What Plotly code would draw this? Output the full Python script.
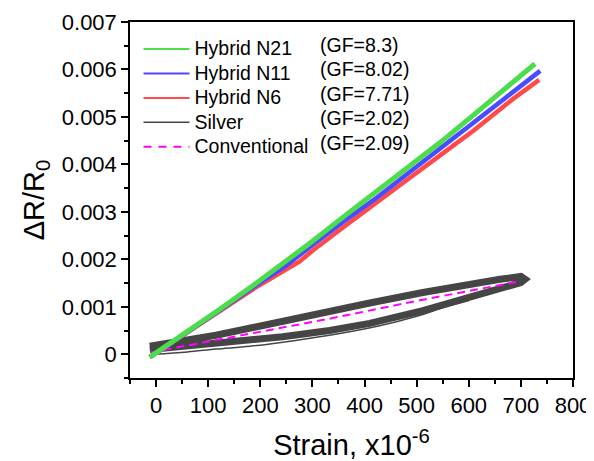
import plotly.graph_objects as go

# ---- data ----
n21_strain = [-12, 50, 120, 190, 240, 300, 360, 420, 480, 545, 610, 685, 727]
n21_dr = [-0.00006, 0.0004, 0.00093, 0.00148, 0.00188, 0.00238, 0.0029, 0.0034, 0.0039, 0.00446, 0.00505, 0.00572, 0.00612]

n11_strain = [-12, 50, 120, 190, 250, 300, 360, 420, 480, 545, 610, 685, 737]
n11_dr = [-0.00006, 0.00039, 0.00091, 0.00144, 0.00187, 0.0023, 0.0028, 0.00327, 0.00378, 0.00432, 0.00488, 0.00552, 0.00597]

n6_strain = [-12, 50, 120, 190, 275, 300, 360, 420, 480, 545, 610, 685, 735]
n6_dr = [-0.00006, 0.00038, 0.00089, 0.0014, 0.00195, 0.00218, 0.00268, 0.00316, 0.00366, 0.00419, 0.00472, 0.00538, 0.00578]

silver_strain = [-12, 50, 115, 180, 243, 333, 410, 512, 600, 660, 700, 708, 700, 660, 600, 512, 410, 333, 243, 115, -12]
silver_dr = [0.0001, 0.00016, 0.00022, 0.00029, 0.00037, 0.0005, 0.00065, 0.00092, 0.00118, 0.00138, 0.00151, 0.00158,
             0.00164, 0.00158, 0.00147, 0.0013, 0.00108, 0.0009, 0.00069, 0.0004, 0.00017]

silver_first_strain = [-5, 60, 115, 180, 240, 333, 429, 500, 550, 600]
silver_first_dr = [0.0, 0.00005, 0.00011, 0.00017, 0.00025, 0.0004, 0.0006, 0.0008, 0.00098, 0.00113]

conv_strain = [-10, 115, 333, 512, 695]
conv_dr = [0.00004, 0.0003, 0.00075, 0.00115, 0.00153]

series_names = ["Hybrid N21", "Hybrid N11", "Hybrid N6", "Silver", "Conventional"]
gf_labels = ["(GF=8.3)", "(GF=8.02)", "(GF=7.71)", "(GF=2.02)", "(GF=2.09)"]

x_tickvals = [0, 100, 200, 300, 400, 500, 600, 700, 800]
x_ticktext = ["0", "100", "200", "300", "400", "500", "600", "700", "800"]
y_tickvals = [0, 0.001, 0.002, 0.003, 0.004, 0.005, 0.006, 0.007]
y_ticktext = ["0", "0.001", "0.002", "0.003", "0.004", "0.005", "0.006", "0.007"]

# ---- styles ----
GREEN = "#4cdc4c"
BLUE = "#4a4aff"
RED = "#ff4a4a"
GRAY = "#454545"
MAGENTA = "#ff00ff"
FONT = "Liberation Sans, Arial, sans-serif"
TXT_SIZE = 19.5   # legend / GF text size
ROW_FONT = 16.5   # governs legend row spacing

fig = go.Figure()

fig.add_trace(go.Scatter(x=silver_strain, y=silver_dr, mode="lines",
                         line=dict(color=GRAY, width=7), showlegend=False, hoverinfo="skip"))
fig.add_trace(go.Scatter(x=silver_first_strain, y=silver_first_dr, mode="lines",
                         line=dict(color=GRAY, width=1.5, shape="spline"), showlegend=False, hoverinfo="skip"))
fig.add_trace(go.Scatter(x=conv_strain, y=conv_dr, mode="lines",
                         line=dict(color=MAGENTA, width=2, dash="8px,5px"), showlegend=False, hoverinfo="skip"))
fig.add_trace(go.Scatter(x=n6_strain, y=n6_dr, mode="lines",
                         line=dict(color=RED, width=4.5), showlegend=False, hoverinfo="skip"))
fig.add_trace(go.Scatter(x=n11_strain, y=n11_dr, mode="lines",
                         line=dict(color=BLUE, width=4.5), showlegend=False, hoverinfo="skip"))
fig.add_trace(go.Scatter(x=n21_strain, y=n21_dr, mode="lines",
                         line=dict(color=GREEN, width=5), showlegend=False, hoverinfo="skip"))

legend_styles = [dict(color=GREEN, width=2), dict(color=BLUE, width=2), dict(color=RED, width=2),
                 dict(color=GRAY, width=1.5), dict(color=MAGENTA, width=2, dash="8px,7px")]
for name, ls in zip(series_names, legend_styles):
    fig.add_trace(go.Scatter(x=[None], y=[None], mode="lines", line=ls,
                             name=f'<span style="font-size:{TXT_SIZE}px">{name}</span>'))

# figure geometry (page body adds an 8px offset)
OFF = 8
W, H = 594 - OFF, 461 - OFF
L, R, T, B = 130 - OFF, 21, 22 - OFF, 83
pw, ph = W - L - R, H - T - B

row_h = ROW_FONT * 1.3 + 3
first_row = 44 - OFF       # centre of first legend row, figure px
annos = []
for i, g in enumerate(gf_labels):
    ypx = first_row + 1 + i * row_h
    annos.append(dict(x=(318 - OFF - L) / pw, y=(H - B - ypx) / ph, xref="paper", yref="paper",
                      text=g, showarrow=False, xanchor="left", yanchor="middle",
                      font=dict(family=FONT, size=TXT_SIZE, color="black")))

axis_common = dict(showline=True, linecolor="black", linewidth=1.5, mirror=True,
                   ticks="outside", ticklen=7, tickwidth=1.5, tickcolor="black",
                   showgrid=False, zeroline=False, automargin=False,
                   tickfont=dict(family=FONT, size=22, color="black"))

fig.update_layout(
    template="none",
    width=W, height=H,
    margin=dict(l=L, r=R, t=T, b=B),
    paper_bgcolor="white", plot_bgcolor="white",
    font=dict(family=FONT, color="black"),
    showlegend=True,
    legend=dict(x=8.5 / pw, y=(H - B - (first_row - row_h / 2)) / ph, xanchor="left", yanchor="top",
                bgcolor="rgba(0,0,0,0)", borderwidth=0, itemwidth=46,
                font=dict(family=FONT, size=ROW_FONT, color="black")),
    annotations=annos,
    xaxis=dict(range=[-50, 800], tickvals=x_tickvals, ticktext=x_ticktext,
               minor=dict(dtick=50, tick0=0, ticks="outside", ticklen=4, tickwidth=1.5, tickcolor="black"),
               title=dict(text="Strain, x10<sup>-6</sup>", font=dict(family=FONT, size=29), standoff=36),
               **axis_common),
    yaxis=dict(range=[-0.0005, 0.007], tickvals=y_tickvals, ticktext=y_ticktext,
               minor=dict(dtick=0.0005, tick0=0, ticks="outside", ticklen=4, tickwidth=1.5, tickcolor="black"),
               title=dict(text="ΔR/R<sub>0</sub>", font=dict(family=FONT, size=29), standoff=9),
               **axis_common),
)

fig.write_html("out.html")
